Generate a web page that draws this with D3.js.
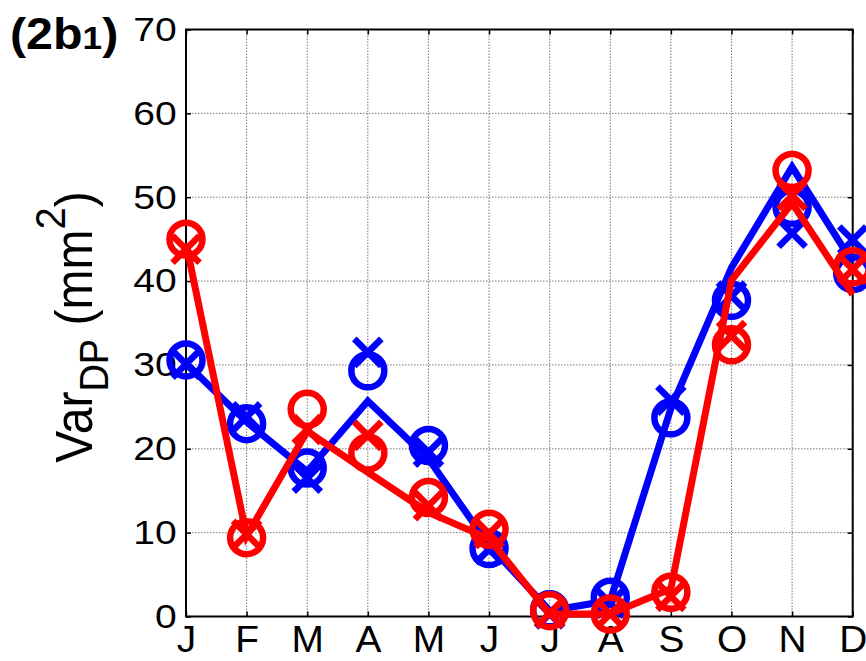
<!DOCTYPE html>
<html>
<head>
<meta charset="utf-8">
<script src="https://cdn.jsdelivr.net/npm/d3@7"></script>
<style>
  html, body { margin: 0; padding: 0; background: #fff; }
  svg { display: block; }
  text { font-family: "Liberation Sans", Arial, sans-serif; fill: #000; }
</style>
</head>
<body>
<svg id="chart" width="866" height="661"></svg>
<script>
// Monthly variance of DP (mm^2): a connecting line plus "o" and "x" estimates per series
const months = ["J", "F", "M", "A", "M", "J", "J", "A", "S", "O", "N", "D"];
const yTicks = [0, 10, 20, 30, 40, 50, 60, 70];

const blueLine   = [30.2, 23.2, 17.3, 25.7, 18.8, 8.5, 0.7, 1.9, 24.8, 41.6, 53.6, 42.2];
const blueCircle = [30.6, 23.0, 17.7, 29.3, 20.4, 8.1, 0.8, 2.3, 23.7, 37.7, 48.8, 40.9];
const blueCross  = [30.1, 23.8, 16.5, 31.5, 19.6, 8.0, 0.3, 1.6, 25.8, 38.2, 45.7, 44.9];

const redLine    = [44.5, 9.6, 22.1, 17.2, 12.4, 9.3, 0.3, 0.3, 3.3, 40.1, 49.3, 38.4];
const redCircle  = [45.0, 9.4, 24.7, 19.5, 14.2, 10.4, 0.7, 0.3, 2.9, 32.4, 53.2, 41.7];
const redCross   = [43.8, 9.8, 22.3, 21.6, 13.2, 9.9, 0.4, 0.3, 2.4, 33.5, 50.2, 41.4];

const series = [
  { color: "#0000ff", line: blueLine, circle: blueCircle, cross: blueCross },
  { color: "#ff0000", line: redLine,  circle: redCircle,  cross: redCross }
];

const plotLeft = 186, plotRight = 852.7, plotTop = 29.5, plotBottom = 616.5;

const svg = d3.select("#chart");
const x = d3.scaleLinear().domain([0, months.length - 1]).range([plotLeft, plotRight]);
const y = d3.scaleLinear().domain([0, 70]).range([plotBottom, plotTop]);

// dotted grid
const grid = svg.append("g").attr("stroke", "#777").attr("stroke-width", 1)
  .attr("stroke-dasharray", "1.5,1.5");
grid.selectAll("line.v").data(d3.range(months.length)).join("line").attr("class", "v")
  .attr("x1", d => x(d)).attr("x2", d => x(d)).attr("y1", plotTop).attr("y2", plotBottom);
grid.selectAll("line.h").data(yTicks).join("line").attr("class", "h")
  .attr("x1", plotLeft).attr("x2", plotRight).attr("y1", d => y(d)).attr("y2", d => y(d));

// axes with inward ticks
const gx = svg.append("g").attr("transform", `translate(0,${plotBottom})`)
  .call(d3.axisBottom(x).tickValues(d3.range(months.length)).tickFormat(i => months[i])
    .tickSize(-5).tickPadding(9.5));
gx.selectAll("text").attr("font-size", 37).attr("transform", "scale(1.05,1)");

const gy = svg.append("g").attr("transform", `translate(${plotLeft},0)`)
  .call(d3.axisLeft(y).tickValues(yTicks).tickSize(-5).tickPadding(8));
gy.selectAll("text").attr("font-size", 34).attr("transform", "scale(1.15,1)");

svg.append("g").attr("transform", `translate(0,${plotTop})`)
  .call(d3.axisTop(x).tickValues(d3.range(months.length)).tickFormat("").tickSize(-5));
svg.append("g").attr("transform", `translate(${plotRight},0)`)
  .call(d3.axisRight(y).tickValues(yTicks).tickFormat("").tickSize(-5));

svg.selectAll(".domain").remove();
svg.selectAll(".tick line").attr("stroke", "#000").attr("stroke-width", 1.5);
svg.selectAll(".tick text").attr("fill", "#000").attr("font-family", "Liberation Sans, Arial, sans-serif");

// frame
svg.append("rect").attr("x", plotLeft).attr("y", plotTop)
  .attr("width", plotRight - plotLeft).attr("height", plotBottom - plotTop)
  .attr("fill", "none").attr("stroke", "#000").attr("stroke-width", 2);

// series
const lineGen = d3.line().x((d, i) => x(i)).y(d => y(d));
series.forEach(s => {
  const g = svg.append("g");
  g.append("path").datum(s.line).attr("d", lineGen)
    .attr("fill", "none").attr("stroke", s.color).attr("stroke-width", 7)
    .attr("stroke-linejoin", "miter").attr("stroke-miterlimit", 10);
  g.selectAll("circle").data(s.circle).join("circle")
    .attr("cx", (d, i) => x(i)).attr("cy", d => y(d)).attr("r", 16.5)
    .attr("fill", "none").attr("stroke", s.color).attr("stroke-width", 6.5);
  const k = 13.5;
  g.selectAll("path.cross").data(s.cross).join("path").attr("class", "cross")
    .attr("transform", (d, i) => `translate(${x(i)},${y(d)})`)
    .attr("d", `M${-k},${-k}L${k},${k}M${-k},${k}L${k},${-k}`)
    .attr("fill", "none").attr("stroke", s.color).attr("stroke-width", 6.5);
});

// y-axis title
const yt = svg.append("text")
  .attr("transform", "translate(92,327) scale(1.07,1) rotate(-90)")
  .attr("text-anchor", "middle").attr("font-size", 48);
yt.append("tspan").text("Var");
yt.append("tspan").attr("font-size", 38).attr("dy", 15).text("DP");
yt.append("tspan").attr("dy", -15).text("\u00a0(mm");
yt.append("tspan").attr("font-size", 40).attr("dy", -25).text("2");
yt.append("tspan").attr("dy", 25).text(")");

// panel label
const pl = svg.append("text")
  .attr("transform", "translate(10,49) scale(1.1,1)")
  .attr("font-family", "'Open Sans', sans-serif").attr("font-weight", "bold").attr("font-size", 44);
pl.append("tspan").text("(2b");
pl.append("tspan").attr("font-size", 32).text("1");
pl.append("tspan").text(")");
</script>
</body>
</html>
